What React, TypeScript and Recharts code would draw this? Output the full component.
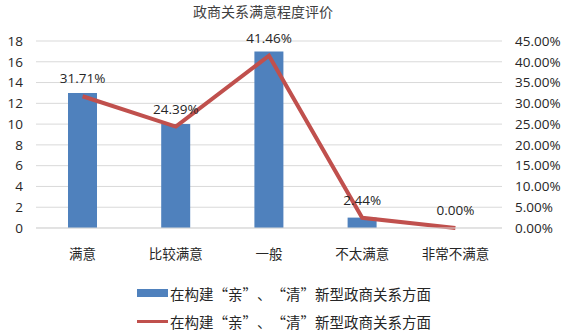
import React from 'react';
import { ComposedChart, Bar, Line, XAxis, YAxis, CartesianGrid, Legend, LabelList, Customized } from 'recharts';

const categories = ['满意', '比较满意', '一般', '不太满意', '非常不满意'];
const counts = [13, 10, 17, 1, 0];
const percents = [31.71, 24.39, 41.46, 2.44, 0.0];
const leftTicks = [0, 2, 4, 6, 8, 10, 12, 14, 16, 18];
const rightTicks = [0, 5, 10, 15, 20, 25, 30, 35, 40, 45];
const seriesName = '在构建“亲”、“清”新型政商关系方面';
const title = '政商关系满意程度评价';

const data = categories.map((name, i) => ({ name, count: counts[i], pct: percents[i] }));

const numFont = '"Open Sans", "Noto Sans", sans-serif';
const cjkFont = '"Noto Sans CJK SC", sans-serif';
const textColor = '#262626';
const blue = '#4F81BD';
const red = '#C0504D';

const Title = () => (
  <text x={263} y={17} textAnchor="middle" fontSize={14} fontFamily={cjkFont} fill="#404040">
    {title}
  </text>
);

// full-width quotes like the original (Song font renders them 1em wide)
const WideName = () => (
  <span>
    {Array.from(seriesName).map((ch, i) =>
      ch === '“' || ch === '”' ? (
        <span key={i} style={{ display: 'inline-block', width: '1em', textAlign: ch === '“' ? 'right' : 'left' }}>
          {ch}
        </span>
      ) : (
        <React.Fragment key={i}>{ch}</React.Fragment>
      )
    )}
  </span>
);

const LegendBox = () => (
  <div style={{ height: 56, fontFamily: cjkFont, fontSize: 14.5, color: textColor }}>
    <div style={{ display: 'flex', alignItems: 'center', height: 28, paddingLeft: 137 }}>
      <span style={{ display: 'inline-block', width: 31, height: 8, background: blue, marginRight: 2 }} />
      <WideName />
    </div>
    <div style={{ display: 'flex', alignItems: 'center', height: 28, paddingLeft: 137 }}>
      <span style={{ display: 'inline-block', width: 31, height: 3, background: red, marginRight: 2 }} />
      <WideName />
    </div>
  </div>
);

export default function App() {
  return (
    <div style={{ position: 'absolute', left: 0, top: 0, width: 565, height: 335, background: '#fff' }}>
      <ComposedChart width={565} height={335} data={data} margin={{ top: 41, right: 0, bottom: 0, left: 0 }}>
        <CartesianGrid vertical={false} stroke="#d9d9d9" yAxisId="left" />
        <XAxis
          dataKey="name"
          height={51}
          tickSize={0}
          tickMargin={21}
          axisLine={{ stroke: '#d9d9d9' }}
          tick={{ fontSize: 13.5, fontFamily: cjkFont, fill: textColor }}
          interval={0}
        />
        <YAxis
          yAxisId="left"
          width={36}
          domain={[0, 18]}
          ticks={leftTicks}
          interval={0}
          axisLine={false}
          tickSize={0}
          tickMargin={13}
          tick={{ fontSize: 13.5, fontFamily: numFont, fill: textColor }}
        />
        <YAxis
          yAxisId="right"
          orientation="right"
          width={63}
          domain={[0, 45]}
          ticks={rightTicks}
          interval={0}
          axisLine={false}
          tickSize={0}
          tickMargin={13}
          tickFormatter={(v: number) => `${v.toFixed(2)}%`}
          tick={{ fontSize: 13.5, fontFamily: numFont, fill: textColor, textAnchor: 'start' }}
        />
        <Bar yAxisId="left" dataKey="count" fill={blue} barSize={29} isAnimationActive={false} name={seriesName} />
        <Line
          yAxisId="right"
          dataKey="pct"
          type="linear"
          stroke={red}
          strokeWidth={4}
          dot={false}
          activeDot={false}
          isAnimationActive={false}
          name={seriesName}
        >
          <LabelList
            dataKey="pct"
            position="top"
            offset={13}
            formatter={(v: number) => `${v.toFixed(2)}%`}
            style={{ fontSize: 13.5, fontFamily: numFont, fill: textColor }}
          />
        </Line>
        <Legend verticalAlign="bottom" align="left" content={() => <LegendBox />} wrapperStyle={{ left: 0, width: 565 }} />
        <Customized component={Title} />
      </ComposedChart>
    </div>
  );
}
